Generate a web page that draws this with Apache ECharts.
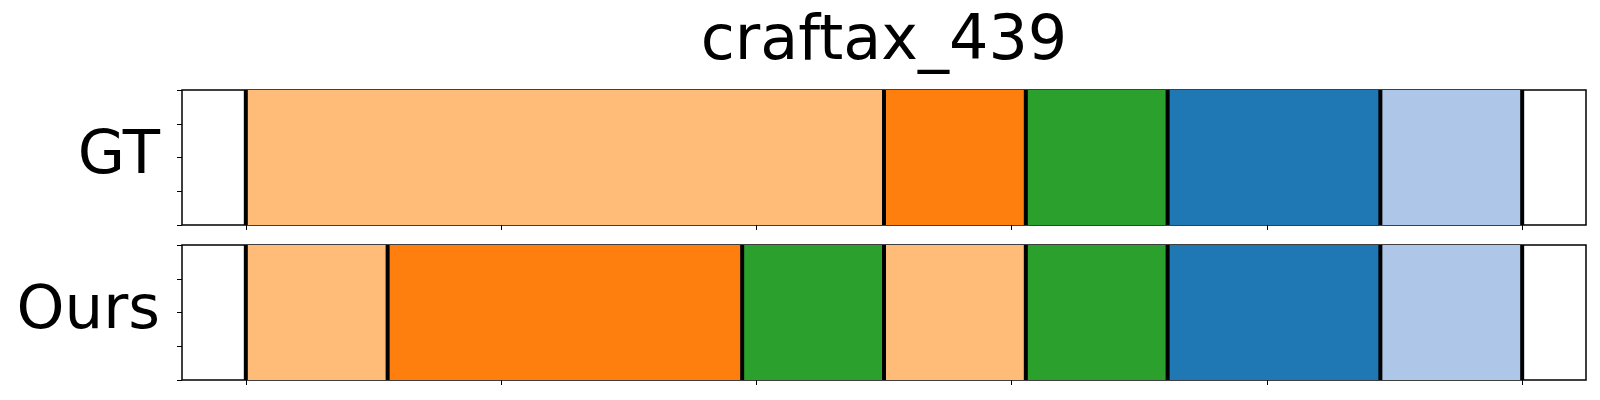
<!DOCTYPE html>
<html>
<head>
<meta charset="utf-8">
<script src="https://cdn.jsdelivr.net/npm/echarts@6/dist/echarts.min.js"></script>
<style>html,body{margin:0;padding:0;background:#fff}#c{width:1600px;height:400px}</style>
</head>
<body>
<div id="c"></div>
<script>
const title = 'craftax_439';
const rowNames = ['GT', 'Ours'];
const classColors = ['#ffbb78', '#ff7f0e', '#2ca02c', '#1f77b4', '#aec7e8'];
const gtBounds = [0, 9, 11, 13, 16, 18];
const gtClasses = [0, 1, 2, 3, 4];
const oursBounds = [0, 2, 7, 9, 11, 13, 16, 18];
const oursClasses = [0, 1, 2, 0, 2, 3, 4];
const xTicks = [0, 3.6, 7.2, 10.8, 14.4, 18];
const yTicks = [0, 0.25, 0.5, 0.75, 1];

const FONT = 'DejaVu Sans';
const chart = echarts.init(document.getElementById('c'), null, {renderer: 'canvas'});

function segData(bounds, classes) {
  const out = [];
  for (let i = 0; i < classes.length; i++) out.push([bounds[i], bounds[i + 1], classes[i]]);
  return out;
}

const rows = [
  {bounds: gtBounds, classes: gtClasses, top: 90, name: rowNames[0]},
  {bounds: oursBounds, classes: oursClasses, top: 245, name: rowNames[1]}
];

const grids = [], xAxes = [], yAxes = [], series = [];
rows.forEach((r, i) => {
  grids.push({left: 182, right: 14, top: r.top, height: 135, show: true, borderColor: '#000', borderWidth: 1.5, backgroundColor: 'transparent'});
  xAxes.push({
    type: 'value', gridIndex: i, min: -0.9, max: 18.9,
    axisLine: {show: false, onZero: false}, splitLine: {show: false},
    axisLabel: {show: false},
    axisTick: {show: true, inside: false, length: 5, lineStyle: {color: '#000', width: 1}, customValues: xTicks}
  });
  yAxes.push({
    type: 'value', gridIndex: i, min: 0, max: 1, interval: 0.25,
    axisLine: {show: false, onZero: false}, splitLine: {show: false},
    axisLabel: {show: false},
    axisTick: {show: true, inside: false, length: 5, lineStyle: {color: '#000', width: 1}, customValues: yTicks},
    name: r.name, nameLocation: 'middle', nameRotate: 0, nameGap: 22,
    nameTextStyle: {fontFamily: FONT, fontSize: 61, color: '#000', align: 'right', verticalAlign: 'middle'}
  });
  series.push({
    type: 'custom', xAxisIndex: i, yAxisIndex: i, z: 2,
    data: segData(r.bounds, r.classes),
    encode: {x: [0, 1]},
    renderItem: function (params, api) {
      const p0 = api.coord([api.value(0), 1]);
      const p1 = api.coord([api.value(1), 0]);
      return {type: 'rect', shape: {x: p0[0], y: p0[1], width: p1[0] - p0[0], height: p1[1] - p0[1]},
              style: {fill: classColors[api.value(2)]}};
    }
  });
  series.push({
    type: 'custom', xAxisIndex: i, yAxisIndex: i, z: 3,
    data: r.bounds.map(b => [b]),
    encode: {x: 0},
    renderItem: function (params, api) {
      const a = api.coord([api.value(0), 1]);
      const b = api.coord([api.value(0), 0]);
      return {type: 'line', shape: {x1: a[0], y1: a[1], x2: b[0], y2: b[1]},
              style: {stroke: '#000', lineWidth: 4}};
    }
  });
});

chart.setOption({
  animation: false,
  backgroundColor: '#fff',
  title: {text: title, left: 879, top: 7, textAlign: 'center',
          textStyle: {fontFamily: FONT, fontSize: 62, fontWeight: 'normal', color: '#000'}},
  grid: grids, xAxis: xAxes, yAxis: yAxes, series: series
});
</script>
</body>
</html>
